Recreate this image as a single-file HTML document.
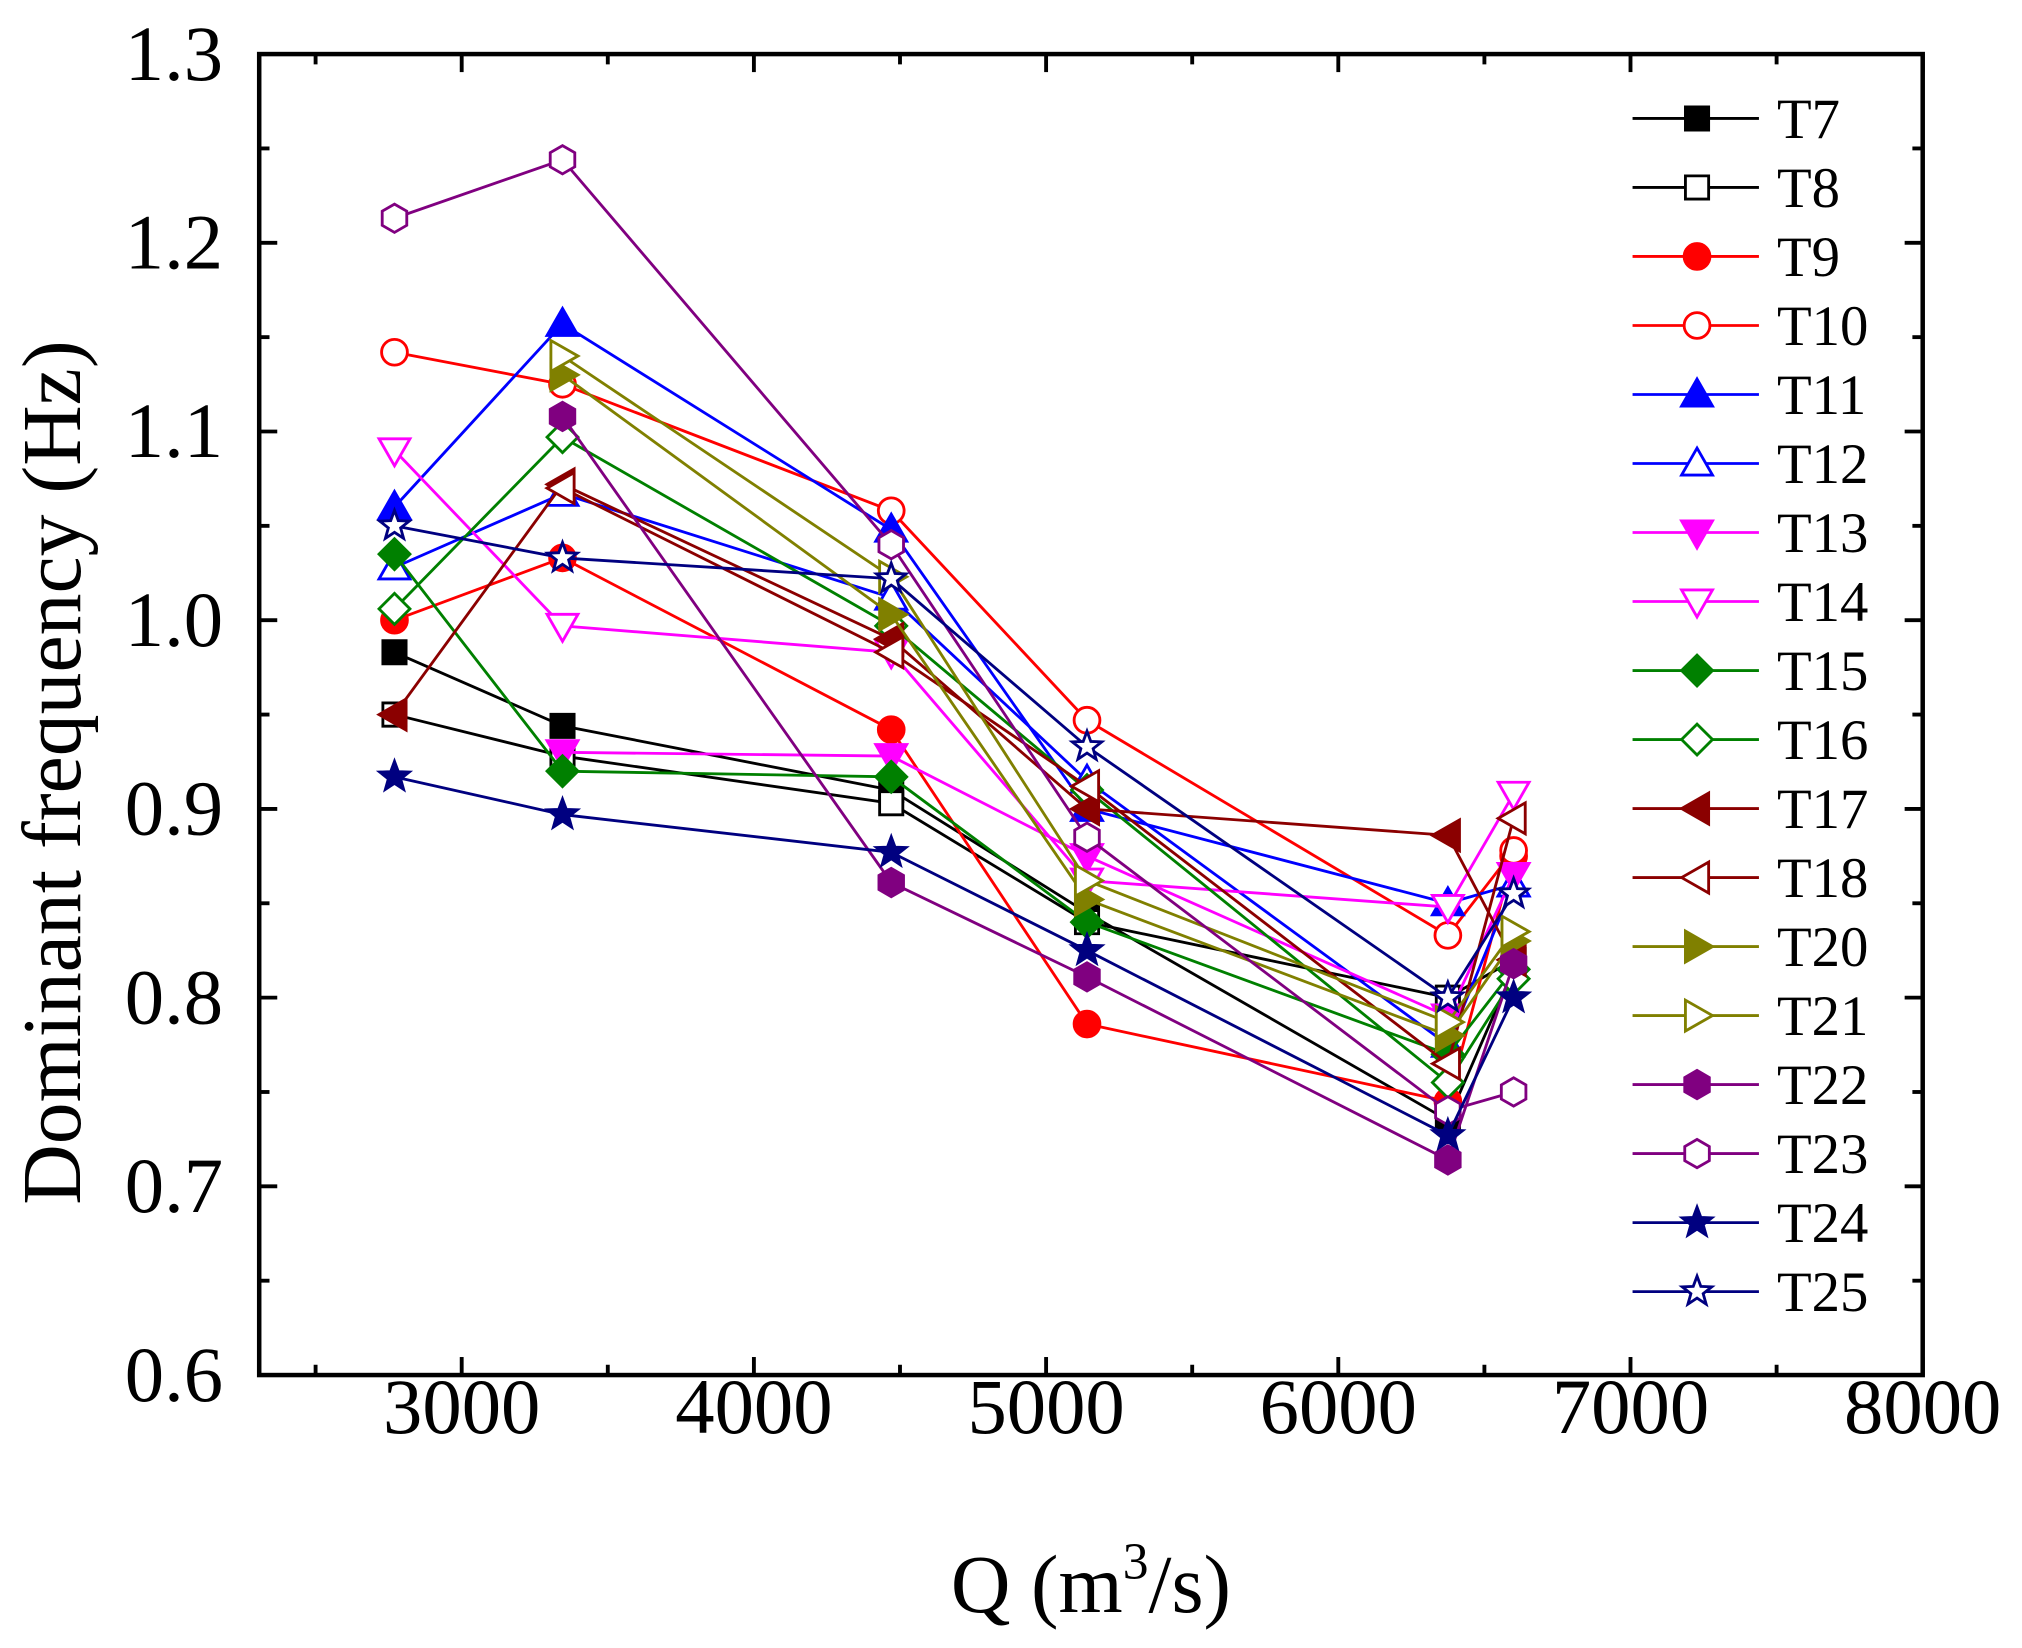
<!DOCTYPE html>
<html><head><meta charset="utf-8"><style>
html,body{margin:0;padding:0;background:#fff;}
svg{display:block;}
text{font-family:"Liberation Serif",serif;fill:#000;}
</style></head><body>
<svg id="chart" width="2022" height="1648" viewBox="0 0 1568 1280" preserveAspectRatio="none" xmlns="http://www.w3.org/2000/svg">
<rect width="1568" height="1280" fill="#fff"/>
<g id="plot"></g>
</svg>
<script>
const xValues = [2770, 3345, 4470, 5140, 6375, 6600];
const seriesNames = ["T7","T8","T9","T10","T11","T12","T13","T14","T15","T16","T17","T18","T20","T21","T22","T23","T24","T25"];
const T7  = [0.983,0.944,0.910,0.845,0.735,0.815];
const T8  = [0.950,0.928,0.903,0.840,0.800,0.820];
const T9  = [1.000,1.033,0.942,0.786,0.745,0.875];
const T10 = [1.142,1.125,1.058,0.947,0.833,0.878];
const T11 = [1.060,1.157,1.048,0.900,0.850,0.860];
const T12 = [1.028,1.067,1.012,0.915,0.775,0.860];
const T13 = [null,0.930,0.928,0.875,0.790,0.865];
const T14 = [1.090,0.997,0.983,0.862,0.848,0.908];
const T15 = [1.035,0.920,0.917,0.840,0.770,0.815];
const T16 = [1.006,1.097,0.997,0.910,0.755,0.810];
const T17 = [0.950,1.072,0.990,0.900,0.886,0.820];
const T18 = [null,1.070,0.983,0.912,0.765,0.895];
const T20 = [null,1.130,1.003,0.852,0.780,0.830];
const T21 = [null,1.140,1.023,0.862,0.787,0.835];
const T22 = [null,1.108,0.861,0.811,0.714,0.818];
const T23 = [1.213,1.244,1.040,0.885,0.740,0.750];
const T24 = [0.917,0.897,0.877,0.825,0.727,0.800];
const T25 = [1.050,1.033,1.022,0.933,0.800,0.855];
const seriesValues = [T7,T8,T9,T10,T11,T12,T13,T14,T15,T16,T17,T18,T20,T21,T22,T23,T24,T25];
const xTicks = [3000,4000,5000,6000,7000,8000];
const yTicks = [0.6,0.7,0.8,0.9,1.0,1.1,1.2,1.3];
const yTickLabels = ["0.6","0.7","0.8","0.9","1.0","1.1","1.2","1.3"];

const styles = [
 ["#000","square",1],["#000","square",0],["#f00","circle",1],["#f00","circle",0],
 ["#00f","up",1],["#00f","up",0],["#f0f","down",1],["#f0f","down",0],
 ["#008000","diamond",1],["#008000","diamond",0],["#8b0000","left",1],["#8b0000","left",0],
 ["#808000","right",1],["#808000","right",0],["#800080","hex",1],["#800080","hex",0],
 ["#000080","star",1],["#000080","star",0]];

const L=201,R=1491,T=42,B=1068, XMIN=2307,XMAX=8000,YMIN=0.6,YMAX=1.3;
const sx=v=>L+(v-XMIN)/(XMAX-XMIN)*(R-L);
const sy=v=>B-(v-YMIN)/(YMAX-YMIN)*(B-T);
const NS="http://www.w3.org/2000/svg";
const g=document.getElementById('plot');
function mk(tag,attrs,parent){const e=document.createElementNS(NS,tag);for(const k in attrs)e.setAttribute(k,attrs[k]);(parent||g).appendChild(e);return e;}

function markerPath(shape,x,y){
  const r=11;
  switch(shape){
    case "square":return `M${x-9},${y-9}h18v18h-18z`;
    case "up":return `M${x},${y-12}L${x+12},${y+9}L${x-12},${y+9}z`;
    case "down":return `M${x},${y+12}L${x+12},${y-9}L${x-12},${y-9}z`;
    case "left":return `M${x-12},${y}L${x+9},${y-12}L${x+9},${y+12}z`;
    case "right":return `M${x+12},${y}L${x-9},${y-12}L${x-9},${y+12}z`;
    case "diamond":return `M${x},${y-12}L${x+12},${y}L${x},${y+12}L${x-12},${y}z`;
    case "hex":{let p="";for(let i=0;i<6;i++){const a=Math.PI/3*i+Math.PI/6;p+=(i?"L":"M")+(x+r*Math.cos(a))+","+(y+r*Math.sin(a));}return p+"z";}
    case "star":{let p="";for(let i=0;i<10;i++){const a=-Math.PI/2+Math.PI/5*i;const rr=i%2?5:12;p+=(i?"L":"M")+(x+rr*Math.cos(a))+","+(y+rr*Math.sin(a));}return p+"z";}
  }
}
function drawMarker(st,x,y,parent){
  const [c,shape,fill]=st;
  if(shape==="circle")return mk("circle",{cx:x,cy:y,r:10,fill:fill?c:"#fff",stroke:c,"stroke-width":2.2},parent);
  return mk("path",{d:markerPath(shape,x,y),fill:fill?c:"#fff",stroke:c,"stroke-width":2.2},parent);
}

seriesValues.forEach((vals,si)=>{
  const st=styles[si];
  const sg=mk("g",{});
  
  
  let d="";
  vals.forEach((v,i)=>{if(v==null)return;d+=(d?"L":"M")+sx(xValues[i])+","+sy(v);});
  const ln=mk("path",{d:d,fill:"none",stroke:st[0],"stroke-width":2.2},sg);
  
  
  vals.forEach((v,i)=>{if(v==null)return;const m=drawMarker(st,sx(xValues[i]),sy(v),sg);
    
    });
});

const frame=mk("rect",{x:L,y:T,width:R-L,height:B-T,fill:"none",stroke:"#000","stroke-width":3.5});


for(let v=2500;v<=8000;v+=500){
  const x=sx(v),len=(v%1000===0)?14:8;
  mk("line",{x1:x,y1:B,x2:x,y2:B-len,stroke:"#000","stroke-width":3});
  mk("line",{x1:x,y1:T,x2:x,y2:T+len,stroke:"#000","stroke-width":3});
}
xTicks.forEach(v=>{const t=mk("text",{x:sx(v),y:B+45,"text-anchor":"middle","font-size":61});t.textContent=v;
  
  });
for(let k=0;k<=14;k++){
  const v=0.6+k*0.05,y=sy(v),len=(k%2===0)?14:8;
  mk("line",{x1:L,y1:y,x2:L+len,y2:y,stroke:"#000","stroke-width":3});
  mk("line",{x1:R,y1:y,x2:R-len,y2:y,stroke:"#000","stroke-width":3});
}
yTicks.forEach((v,i)=>{const t=mk("text",{x:L-28,y:sy(v)+20,"text-anchor":"end","font-size":61});t.textContent=yTickLabels[i];
  
  });
const xt=mk("text",{x:846,y:1252,"text-anchor":"middle","font-size":64});
xt.innerHTML='Q (m<tspan dy="-26" font-size="40">3</tspan><tspan dy="26">/s)</tspan>';


const yt=mk("text",{x:0,y:0,"text-anchor":"middle","font-size":65,transform:"translate(62,600) rotate(-90)"});
yt.textContent="Dominant frequency (Hz)";


const lg=mk("g",{});


seriesNames.forEach((n,i)=>{
  const y=92+i*53.6, st=styles[i];
  const e=mk("g",{},lg);
  
  
  mk("line",{x1:1266,y1:y,x2:1364,y2:y,stroke:st[0],"stroke-width":2.2},e);
  drawMarker(st,1316,y,e);
  const t=mk("text",{x:1378,y:y+15,"font-size":44},e);t.textContent=n;
});
</script>
</body></html>
